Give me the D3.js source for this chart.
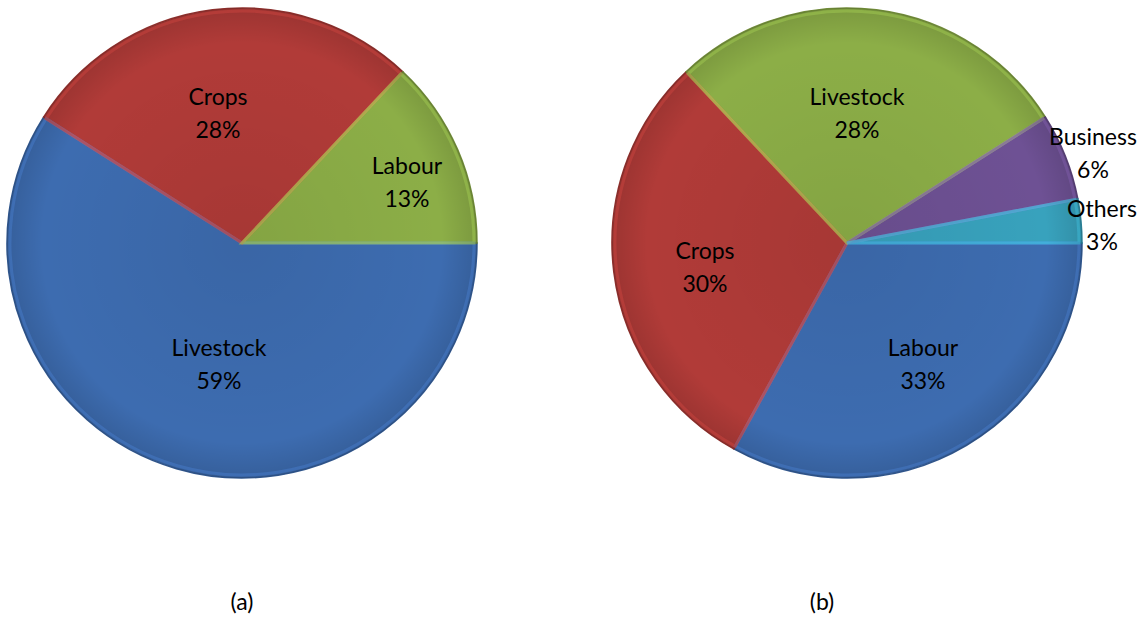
<!DOCTYPE html>
<html>
<head>
<meta charset="utf-8">
<script src="https://cdn.jsdelivr.net/npm/d3@7"></script>
<style>
body { margin:0; background:#fff; }
text { font-family: Lato, "Open Sans", sans-serif; font-size:23px; fill:#000; }
</style>
</head>
<body>
<script>
// chart (a)
var catsA = ["Livestock", "Crops", "Labour"];
var valsA = [59, 28, 13];
// chart (b)
var catsB = ["Labour", "Crops", "Livestock", "Business", "Others"];
var valsB = [33, 30, 28, 6, 3];
var captions = ["(a)", "(b)"];

var COLORS = {Livestock:"#3d6cb0", Crops:"#b13b38", Labour:"#8cae47",
  Business:"#6e5194", Others:"#38a2bd"};
// colors for (b) - blue goes with first slice there
var COLORS_B = {Labour:"#3d6cb0", Crops:"#b13b38", Livestock:"#8cae47",
  Business:"#6e5194", Others:"#38a2bd"};

var W = 1146, H = 620, R = 235;

var svg = d3.select("body").append("svg")
  .attr("width", W).attr("height", H);

var defs = svg.append("defs");
var grad = defs.append("radialGradient").attr("id", "shade")
  .attr("cx", "50%").attr("cy", "50%").attr("r", "50%");
grad.append("stop").attr("offset", "0%").attr("stop-color", "#000").attr("stop-opacity", 0.06);
grad.append("stop").attr("offset", "85%").attr("stop-color", "#000").attr("stop-opacity", 0.0);
grad.append("stop").attr("offset", "100%").attr("stop-color", "#000").attr("stop-opacity", 0.12);

// label positions relative to the centre
function drawPie(cx, cy, cats, vals, colors, labelPos) {
  var g = svg.append("g").attr("transform", "translate(" + cx + "," + cy + ")");
  var pie = d3.pie().sort(null)
    .startAngle(Math.PI/2).endAngle(Math.PI/2 + 2*Math.PI);
  var arcs = pie(vals);
  var arc = d3.arc().innerRadius(0).outerRadius(R);
  var inner = d3.arc().innerRadius(0).outerRadius(R - 3);

  g.selectAll("path.slice").data(arcs).enter().append("path")
    .attr("class", "slice")
    .attr("d", arc)
    .attr("fill", function(d, i){ return colors[cats[i]]; })
    .attr("stroke", function(d, i){ return d3.color(colors[cats[i]]).darker(0.6); })
    .attr("stroke-width", 1.5);

  // bevel highlight
  g.selectAll("path.bevel").data(arcs).enter().append("path")
    .attr("d", inner)
    .attr("fill", "none")
    .attr("stroke", function(d, i){ return d3.color(colors[cats[i]]).brighter(0.6); })
    .attr("stroke-opacity", 0.6)
    .attr("stroke-width", 3);

  g.append("circle").attr("r", R).attr("fill", "url(#shade)");

  g.selectAll("text.lbl").data(arcs).enter().append("text")
    .attr("text-anchor", "middle")
    .each(function(d, i){
      var p = labelPos[i];
      var t = d3.select(this);
      t.append("tspan").attr("x", p[0]).attr("y", p[1]).text(cats[i]);
      t.append("tspan").attr("x", p[0]).attr("y", p[1] + 33).text(vals[i] + "%");
    });
}

drawPie(242, 243, catsA, valsA, COLORS, [[-23, 113], [-24, -138], [165, -69]]);
drawPie(847, 243, catsB, valsB, COLORS_B,
  [[76, 113], [-142, 16], [10, -138], [246, -98], [255, -26]]);

svg.selectAll("text.cap").data(captions).enter().append("text")
  .attr("x", function(d, i){ return i == 0 ? 242 : 822; })
  .attr("y", 610)
  .attr("text-anchor", "middle")
  .text(function(d){ return d; });
</script>
</body>
</html>
